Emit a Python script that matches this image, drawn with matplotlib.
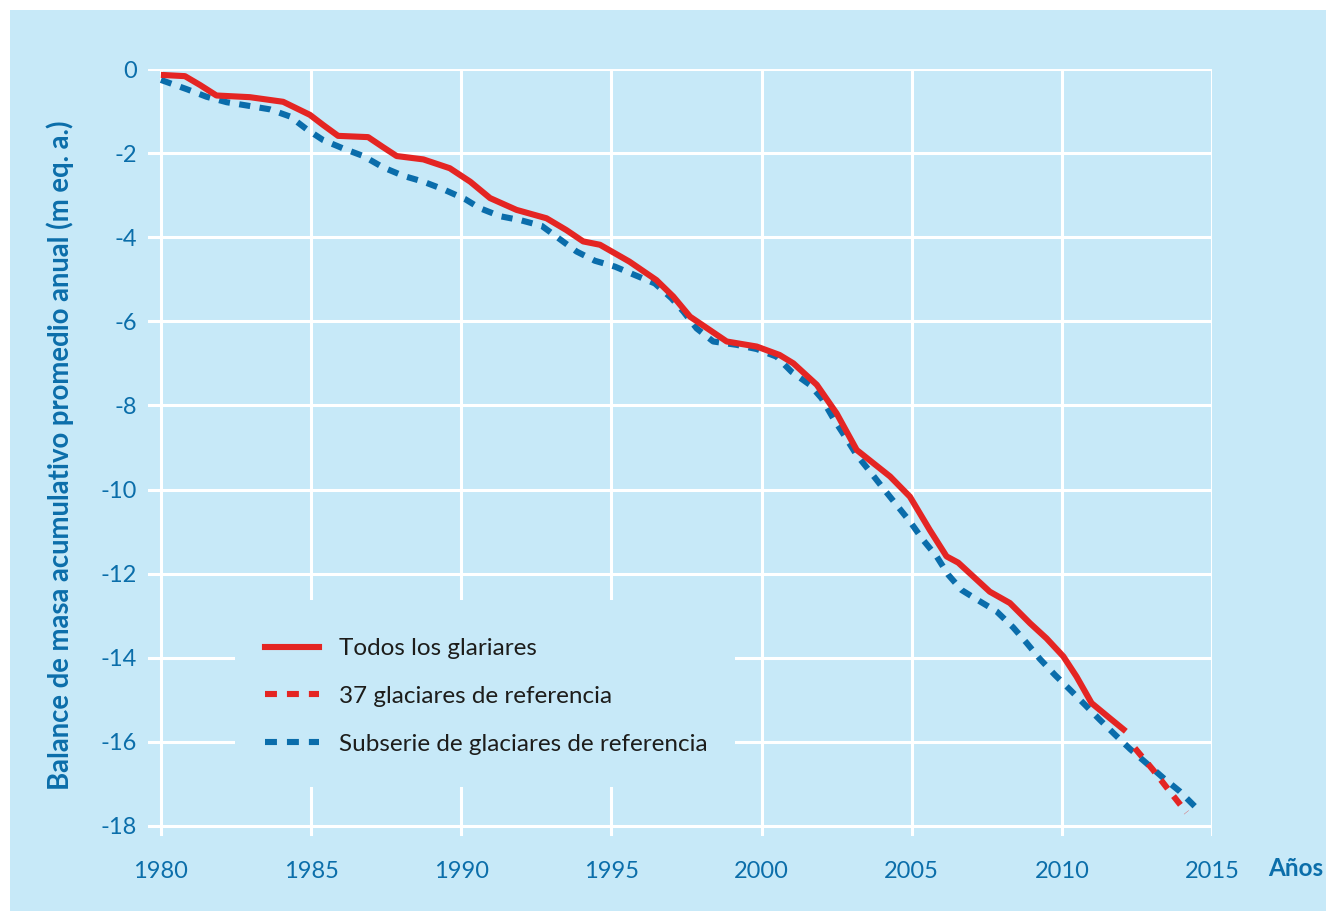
import matplotlib
matplotlib.use("Agg")
import matplotlib.pyplot as plt
from matplotlib.patches import Rectangle
from matplotlib.lines import Line2D

# ---- data ----
red_years = [1980.0, 1980.8, 1981.3, 1981.85, 1982.96, 1984.07, 1984.96, 1985.4, 1985.9, 1986.9,
             1987.4, 1987.85, 1988.74, 1989.62, 1990.3, 1990.96, 1991.84, 1992.84, 1993.5, 1994.06,
             1994.62, 1995.6, 1996.5, 1997.06, 1997.62, 1998.84, 1999.84, 2000.6, 2001.06, 2001.84,
             2002.5, 2003.17, 2004.28, 2004.94, 2005.6, 2006.16, 2006.55, 2007.6, 2008.27, 2008.94,
             2009.49, 2010.05, 2010.49, 2010.99, 2011.6, 2012.13]
red_vals = [-0.14, -0.17, -0.38, -0.63, -0.67, -0.78, -1.09, -1.33, -1.59, -1.62,
            -1.86, -2.07, -2.15, -2.36, -2.68, -3.07, -3.35, -3.55, -3.83, -4.10,
            -4.18, -4.58, -5.02, -5.41, -5.89, -6.48, -6.60, -6.80, -7.00, -7.51,
            -8.19, -9.06, -9.69, -10.17, -10.96, -11.59, -11.74, -12.43, -12.70, -13.18,
            -13.54, -13.97, -14.45, -15.08, -15.44, -15.75]

ref37_years = [2012.43, 2013.04, 2013.54, 2014.15]
ref37_vals = [-16.15, -16.67, -17.13, -17.68]

sub_years = [1980.0, 1980.86, 1981.52, 1982.19, 1982.96, 1983.63, 1984.3, 1984.85, 1985.4, 1986.07,
             1986.74, 1987.4, 1988.07, 1988.74, 1989.4, 1990.12, 1990.62, 1991.29, 1992.0, 1992.68,
             1993.29, 1993.84, 1994.45, 1995.12, 1995.78, 1996.45, 1997.0, 1997.4, 1997.84, 1998.39,
             1999.17, 1999.84, 2000.5, 2001.0, 2001.61, 2002.0, 2002.39, 2002.78, 2003.17, 2003.61,
             2004.05, 2004.5, 2004.94, 2005.38, 2005.83, 2006.22, 2006.66, 2007.27, 2007.83, 2008.38,
             2008.83, 2009.27, 2009.77, 2010.27, 2010.77, 2011.27, 2011.77, 2012.27, 2012.82, 2013.38,
             2013.93, 2014.49]
sub_vals = [-0.26, -0.48, -0.66, -0.79, -0.88, -0.96, -1.13, -1.43, -1.69, -1.89,
            -2.07, -2.34, -2.54, -2.68, -2.86, -3.09, -3.31, -3.50, -3.60, -3.73,
            -4.05, -4.34, -4.56, -4.70, -4.90, -5.10, -5.45, -5.77, -6.17, -6.48,
            -6.56, -6.66, -6.84, -7.20, -7.51, -7.83, -8.31, -8.74, -9.18, -9.57,
            -9.97, -10.37, -10.76, -11.20, -11.59, -12.03, -12.39, -12.66, -12.90, -13.28,
            -13.65, -14.03, -14.41, -14.76, -15.12, -15.48, -15.83, -16.17, -16.51, -16.86,
            -17.18, -17.58]

x_ticks = [1980, 1985, 1990, 1995, 2000, 2005, 2010, 2015]
x_ticklabels = ["1980", "1985", "1990", "1995", "2000", "2005", "2010", "2015"]
y_ticks = [0, -2, -4, -6, -8, -10, -12, -14, -16, -18]
y_ticklabels = ["0", "-2", "-4", "-6", "-8", "-10", "-12", "-14", "-16", "-18"]

labels = ["Todos los glariares", "37 glaciares de referencia", "Subserie de glaciares de referencia"]
y_label = "Balance de masa acumulativo promedio anual (m eq. a.)"
x_label = "Años"

# ---- style ----
BG = "#c7e9f8"
TXT = "#0b6eaa"
RED = "#e42523"
BLUE = "#0a6dab"
plt.rcParams["font.family"] = ["Lato", "DejaVu Sans"]
plt.rcParams["lines.scale_dashes"] = False

W, H = 1326, 911
fig = plt.figure(figsize=(W / 100, H / 100), dpi=100)
fig.patch.set_facecolor("white")
fig.add_artist(Rectangle((10 / W, 0), 1 - 10 / W, 1 - 10 / H, transform=fig.transFigure,
                         facecolor=BG, edgecolor="none", zorder=0))

L, R, T, B = 148, 1212, 69, 836
ax = fig.add_axes([L / W, 1 - B / H, (R - L) / W, (B - T) / H])
ax.set_facecolor(BG)
ax.set_xlim(1979.57, 2015)
ax.set_ylim(-18.24, 0)
for s in ax.spines.values():
    s.set_visible(False)
ax.grid(True, color="white", linewidth=2.2, zorder=1)
ax.set_axisbelow(True)

ax.set_xticks(x_ticks)
ax.set_xticklabels(x_ticklabels)
ax.set_yticks(y_ticks)
ax.set_yticklabels(y_ticklabels)
ax.tick_params(length=0, colors=TXT, labelsize=17)
ax.tick_params(axis="x", pad=18)
ax.tick_params(axis="y", pad=8)

lw = 4.4
dash = (0, (8.0, 6.8))
ax.plot(red_years, red_vals, color=RED, lw=lw, solid_joinstyle="round", solid_capstyle="butt", zorder=4)
ax.plot(ref37_years, ref37_vals, color=RED, lw=lw, linestyle=dash, dash_capstyle="butt", zorder=4)
ax.plot(sub_years, sub_vals, color=BLUE, lw=lw, linestyle=dash, dash_capstyle="butt", zorder=3)

# box behind legend hiding gridlines
ax.add_patch(Rectangle(((235 - L) / (R - L), (B - 787) / (B - T)), 500 / (R - L), 187 / (B - T),
                       transform=ax.transAxes, facecolor=BG, edgecolor="none", zorder=2))

leg_dash = (0, (8.6, 7.2))
handles = [Line2D([], [], color=RED, lw=lw),
           Line2D([], [], color=RED, lw=lw, linestyle=leg_dash),
           Line2D([], [], color=BLUE, lw=lw, linestyle=leg_dash)]
leg = ax.legend(handles, labels, loc="upper left",
                bbox_to_anchor=((253 - L) / (R - L), (B - 626) / (B - T)),
                frameon=False, borderpad=0, fontsize=17.5, handlelength=2.22,
                handletextpad=0.82, labelspacing=1.1)
for t in leg.get_texts():
    t.set_color("#1d1d1b")
leg.set_zorder(5)

fig.text(60 / W, 1 - 455 / H, y_label, rotation=90, ha="center", va="center",
         color=TXT, fontsize=19.8, fontweight="bold")
fig.text(1268 / W, 1 - 868 / H, x_label, ha="left", va="center",
         color=TXT, fontsize=17.5, fontweight="bold")

fig.savefig("out.png", dpi=100, facecolor=fig.get_facecolor())
